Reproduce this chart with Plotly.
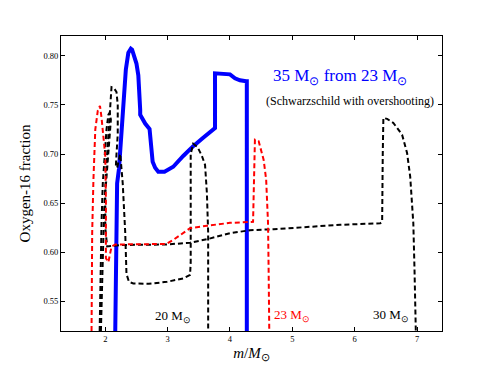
import plotly.graph_objects as go

# 35 Msun grown from 23 Msun (blue, solid)
blue_x = [2.16, 2.18, 2.19, 2.22, 2.24, 2.27, 2.30, 2.33, 2.37, 2.41, 2.43, 2.46, 2.50, 2.53, 2.55,
          2.56, 2.56, 2.60, 2.64, 2.71, 2.73, 2.76, 2.80, 2.85, 2.95, 3.00, 3.09, 3.25, 3.41, 3.57,
          3.74, 3.76, 3.76, 3.90, 4.00, 4.08, 4.16, 4.26, 4.27, 4.27]
blue_y = [0.52, 0.60, 0.67, 0.685, 0.705, 0.725, 0.749, 0.786, 0.803, 0.807, 0.806, 0.800, 0.792, 0.780, 0.764,
          0.745, 0.740, 0.735, 0.731, 0.7255, 0.711, 0.692, 0.686, 0.682, 0.682, 0.684, 0.687, 0.698, 0.708, 0.7165,
          0.7245, 0.7265, 0.782, 0.782, 0.781, 0.777, 0.775, 0.774, 0.774, 0.52]

# 23 Msun (red, dashed)
red_x = [1.78, 1.79, 1.81, 1.84, 1.88, 1.915, 1.94, 1.97, 2.00, 2.01, 2.01, 2.01, 2.05, 2.10, 2.16,
         2.50, 2.98, 3.09, 3.20, 3.36, 3.63, 4.00, 4.37, 4.39, 4.40, 4.46, 4.54, 4.58, 4.61, 4.62, 4.63]
red_y = [0.52, 0.62, 0.674, 0.725, 0.744, 0.749, 0.737, 0.718, 0.698, 0.653, 0.62, 0.594, 0.590, 0.6057, 0.608,
         0.608, 0.6085, 0.6126, 0.6177, 0.6245, 0.627, 0.630, 0.631, 0.70, 0.7146, 0.713, 0.694, 0.674, 0.63, 0.58, 0.52]

# 20 Msun (black, dashed)
m20_x = [1.93, 1.95, 1.98, 2.02, 2.06, 2.08, 2.10, 2.14, 2.18, 2.20, 2.20, 2.18, 2.17, 2.19, 2.24, 2.28,
         2.32, 2.34, 2.38, 2.45, 2.70, 2.99, 3.25, 3.36, 3.37, 3.37, 3.41, 3.48, 3.55, 3.60, 3.63, 3.65, 3.65]
m20_y = [0.52, 0.58, 0.64, 0.69, 0.73, 0.755, 0.768, 0.767, 0.763, 0.75, 0.72, 0.70, 0.688, 0.686, 0.70, 0.67,
         0.62, 0.578, 0.570, 0.5684, 0.568, 0.570, 0.5735, 0.577, 0.59, 0.70, 0.7105, 0.707, 0.698, 0.689, 0.66, 0.62, 0.52]

# 30 Msun (black, dashed)
m30_x = [1.91, 1.92, 1.94, 1.96, 1.99, 2.02, 2.05, 2.07, 2.09, 2.06, 2.02, 2.00, 2.00, 2.03, 2.24, 2.99,
         3.36, 3.63, 4.00, 4.32, 4.70, 5.23, 5.77, 6.41, 6.44, 6.45, 6.46, 6.52, 6.62, 6.76, 6.84, 6.89,
         6.92, 6.94, 6.96, 6.98]
m30_y = [0.52, 0.58, 0.63, 0.67, 0.70, 0.725, 0.74, 0.742, 0.735, 0.71, 0.685, 0.66, 0.625, 0.606, 0.6074, 0.608,
         0.6098, 0.6133, 0.6194, 0.6225, 0.6235, 0.626, 0.628, 0.6296, 0.631, 0.70, 0.7367, 0.7357, 0.7316, 0.7197, 0.701, 0.677,
         0.653, 0.6296, 0.58, 0.52]

x_ticks = [2, 3, 4, 5, 6, 7]
y_ticks = [0.55, 0.60, 0.65, 0.70, 0.75, 0.80]

SERIF = "Liberation Serif, Times New Roman, serif"
DASH = "5px,3px"

fig = go.Figure()

fig.add_trace(go.Scatter(x=blue_x, y=blue_y, mode='lines',
                         line=dict(color='#0000ff', width=4), showlegend=False))
fig.add_trace(go.Scatter(x=m20_x, y=m20_y, mode='lines',
                         line=dict(color='black', width=2, dash=DASH), showlegend=False))
fig.add_trace(go.Scatter(x=m30_x, y=m30_y, mode='lines',
                         line=dict(color='black', width=2, dash=DASH), showlegend=False))
fig.add_trace(go.Scatter(x=red_x, y=red_y, mode='lines',
                         line=dict(color='#ff0000', width=2, dash=DASH), showlegend=False))

# Etichette
labels = [
    (5.77, 0.778, "35 M<sub>⊙</sub> from 23 M<sub>⊙</sub>", '#0000ff', 17),
    (5.93, 0.7537, "(Schwarzschild with overshooting)", 'black', 12),
    (3.08, 0.5343, "20 M<sub>⊙</sub>", 'black', 13),
    (4.99, 0.536, "23 M<sub>⊙</sub>", '#ff0000', 13),
    (6.59, 0.536, "30 M<sub>⊙</sub>", 'black', 13),
]
for x, y, txt, col, size in labels:
    fig.add_annotation(x=x, y=y, text=txt, showarrow=False,
                       font=dict(family=SERIF, size=size, color=col),
                       xanchor='center', yanchor='middle')

axis_common = dict(showline=True, linecolor='black', linewidth=1, mirror='ticks',
                   ticks='inside', ticklen=4, tickcolor='black', showgrid=False,
                   zeroline=False, automargin=False,
                   tickfont=dict(family=SERIF, size=8.5, color='black'))

fig.update_xaxes(range=[1.29, 7.40], tickvals=x_ticks, ticktext=[str(t) for t in x_ticks],
                 title=dict(text="<i>m</i>/<i>M</i><sub>⊙</sub>", standoff=4,
                            font=dict(family=SERIF, size=15, color='black')),
                 **axis_common)
fig.update_yaxes(range=[0.52, 0.82], tickvals=y_ticks, ticktext=[f"{t:.2f}" for t in y_ticks],
                 title=dict(text="Oxygen-16 fraction", standoff=9,
                            font=dict(family=SERIF, size=15, color='black')),
                 **axis_common)

# la pagina ha 8px di margine: figura un po' piu' piccola
fig.update_layout(
    width=483, height=360,
    margin=dict(l=53, r=49, t=28, b=37),
    plot_bgcolor='white', paper_bgcolor='white',
    font=dict(family=SERIF),
)

fig.write_html("out.html")
